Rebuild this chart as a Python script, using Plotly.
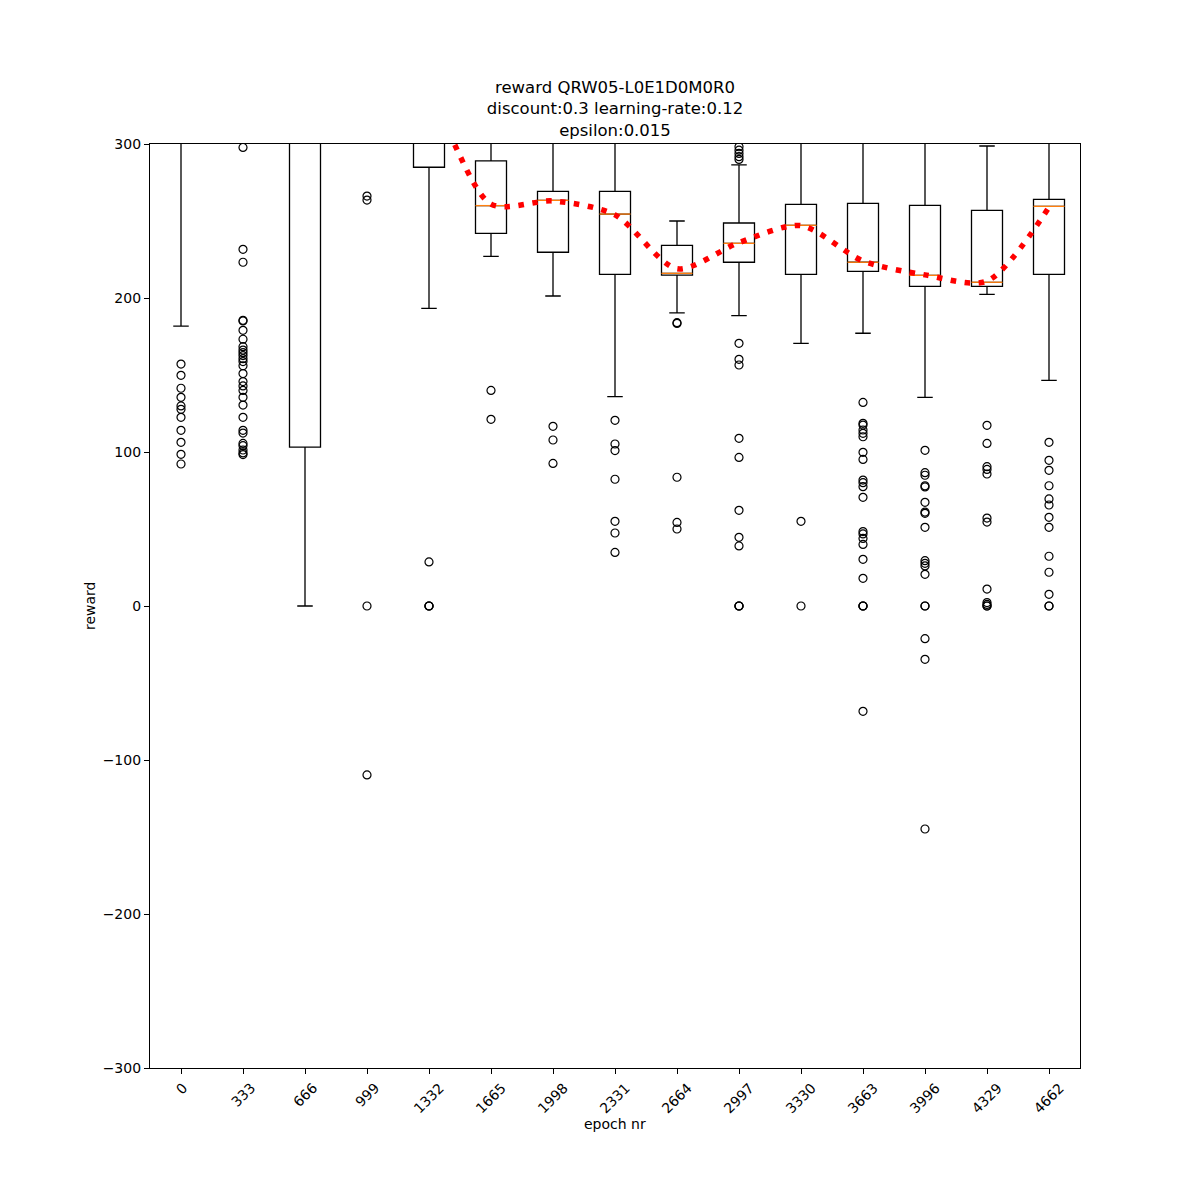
import plotly.graph_objects as go

# ---- data ----
epoch_labels = ["0", "333", "666", "999", "1332", "1665", "1998", "2331",
                "2664", "2997", "3330", "3663", "3996", "4329", "4662"]
positions = list(range(1, len(epoch_labels) + 1))

q1 = [310, 320, 103.2, 320, 284.9, 242.0, 229.7, 215.4, 214.9, 223.2, 215.4, 217.3, 207.6, 207.6, 215.4]
median = [340, 350, 330, 340, 320, 260.0, 263.4, 254.5, 216.0, 235.5, 247.2, 223.2, 214.7, 210.2, 259.5]
q3 = [370, 370, 360, 360, 340, 289.0, 269.3, 269.3, 234.2, 248.7, 260.8, 261.5, 260.2, 256.9, 264.1]
lower_fence = [181.8, 305, 0.0, 305, 193.3, 227.0, 201.3, 136.0, 190.3, 188.5, 170.6, 177.1, 135.5, 202.4, 146.5]
upper_fence = [400, 400, 400, 400, 380, 330, 330, 330, 250.0, 286.4, 330, 330, 330, 298.7, 330]

# smoothed trend line (red dotted)
trend = [360, 370, 360, 360, 330, 261, 263, 254, 219, 236, 247, 224, 215, 211, 259]

outliers = {
    "0": [157.1, 149.8, 141.4, 135.5, 129.9, 127.7, 122.5, 114.1, 106.3, 98.5, 92.2],
    "333": [297.8, 231.6, 223.2, 185.5, 185.1, 179.0, 173.2, 168.4, 166.2, 164.5, 162.6,
            160.6, 158.7, 156.0, 150.9, 145.7, 142.9, 140.0, 135.5, 130.5, 122.5, 114.1,
            112.3, 105.6, 104.1, 101.3, 99.4, 98.3],
    "666": [],
    "999": [266.2, 263.6, 0.0, -109.7],
    "1332": [28.6, 0.0, 0.0, 0.0],
    "1665": [140.0, 121.2],
    "1998": [116.7, 107.8, 92.6],
    "2331": [120.6, 105.2, 100.9, 82.3, 55.0, 47.4, 34.8],
    "2664": [184.0, 183.5, 83.6, 54.3, 50.0],
    "2997": [298.2, 296.0, 293.9, 291.8, 290.0, 170.6, 160.2, 156.5, 108.9, 96.5, 62.1,
             44.6, 39.0, 0.0, 0.0, 0.0],
    "3330": [55.0, 0.0],
    "3663": [132.2, 118.6, 117.5, 114.3, 112.1, 109.9, 99.8, 95.2, 81.8, 80.1, 77.5, 70.6,
             48.3, 46.8, 43.9, 40.0, 30.3, 18.0, 0.0, 0.0, 0.0, -68.4],
    "3996": [101.1, 86.6, 84.9, 78.1, 77.3, 67.3, 61.0, 60.2, 51.1, 29.4, 27.7, 26.0, 20.6,
             0.0, 0.0, -21.2, -34.6, -144.8],
    "4329": [117.3, 105.6, 90.5, 88.7, 85.7, 57.1, 54.5, 11.0, 2.2, 1.0, 0.0, 0.0],
    "4662": [106.3, 94.6, 88.1, 78.1, 69.5, 65.6, 57.6, 51.1, 32.3, 21.9, 7.6, 0.0, 0.0],
}

title_lines = ["reward QRW05-L0E1D0M0R0", "discount:0.3 learning-rate:0.12", "epsilon:0.015"]
x_title = "epoch nr"
y_title = "reward"
y_ticks = [-300, -200, -100, 0, 100, 200, 300]

FONT = "DejaVu Sans"
BOX_W = 0.5

fig = go.Figure()

# boxes
fig.add_trace(go.Box(
    x=positions, q1=q1, median=median, q3=q3,
    lowerfence=lower_fence, upperfence=upper_fence,
    width=BOX_W, whiskerwidth=0.5, boxpoints=False,
    line=dict(color="black", width=1.3),
    fillcolor="rgba(0,0,0,0)", showlegend=False, hoverinfo="skip",
))

# orange median lines
mx, my = [], []
for p, m in zip(positions, median):
    mx += [p - BOX_W / 2, p + BOX_W / 2, None]
    my += [m, m, None]
fig.add_trace(go.Scatter(x=mx, y=my, mode="lines",
                         line=dict(color="#ff7f0e", width=1.3),
                         showlegend=False, hoverinfo="skip"))

# outliers
ox, oy = [], []
for p, lab in zip(positions, epoch_labels):
    for v in outliers[lab]:
        ox.append(p)
        oy.append(v)
fig.add_trace(go.Scatter(x=ox, y=oy, mode="markers",
                         marker=dict(symbol="circle-open", size=8, color="black",
                                     line=dict(width=1.2, color="black")),
                         showlegend=False, hoverinfo="skip"))

# red dotted trend
fig.add_trace(go.Scatter(x=positions, y=trend, mode="lines",
                         line=dict(color="red", width=5.5, dash="5.5px,8.5px",
                                   shape="spline", smoothing=0.8),
                         showlegend=False, hoverinfo="skip"))

annotations = []
for p, lab in zip(positions, epoch_labels):
    annotations.append(dict(x=p, y=0, xref="x", yref="paper", text=lab,
                            showarrow=False, textangle=-45, xanchor="center",
                            yanchor="top", yshift=-9,
                            font=dict(family=FONT, size=14, color="black")))
annotations.append(dict(x=0.5, y=0, xref="paper", yref="paper", text=x_title,
                        showarrow=False, xanchor="center", yanchor="middle", yshift=-56,
                        font=dict(family=FONT, size=14, color="black")))
annotations.append(dict(x=0, y=0.5, xref="paper", yref="paper", text=y_title,
                        showarrow=False, xanchor="center", yanchor="middle", xshift=-60,
                        textangle=-90,
                        font=dict(family=FONT, size=14, color="black")))

# page body adds an 8px margin, so the figure is drawn 8px smaller with shifted margins
fig.update_layout(
    width=1192, height=1192,
    margin=dict(l=142, r=120, t=136, b=132),
    paper_bgcolor="white", plot_bgcolor="white",
    font=dict(family=FONT, size=14, color="black"),
    title=dict(text="<br>".join(title_lines), x=0.5, xref="paper", xanchor="center",
               y=1 - 85 / 1192, yref="container", yanchor="top",
               font=dict(family=FONT, size=16.5, color="black")),
    annotations=annotations,
    xaxis=dict(range=[0.5, len(positions) + 0.5], tickvals=positions,
               showticklabels=False, ticks="outside", ticklen=5, tickcolor="black",
               showgrid=False, zeroline=False, showline=True, mirror=True,
               linecolor="black", linewidth=1.2),
    yaxis=dict(range=[-300, 300], tickvals=y_ticks, ticks="outside", ticklen=5,
               tickcolor="black", showgrid=False, zeroline=False, showline=True,
               mirror=True, linecolor="black", linewidth=1.2,
               tickfont=dict(family=FONT, size=14, color="black")),
)

fig.write_html("out.html")
